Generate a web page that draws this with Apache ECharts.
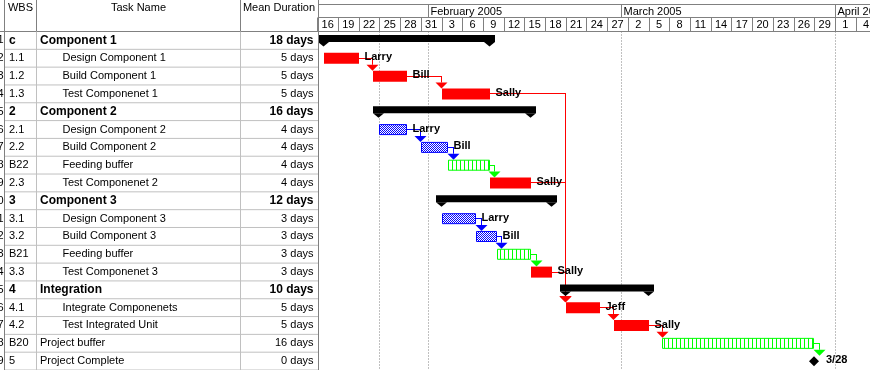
<!DOCTYPE html>
<html><head><meta charset="utf-8">
<script src="https://cdn.jsdelivr.net/npm/echarts@6/dist/echarts.min.js"></script>
<style>html,body{margin:0;padding:0;background:#fff}#c{width:870px;height:370px}</style>
</head><body><div id="c"></div>
<script>
// ---------- DATA ----------
const rowNumbers = [1,2,3,4,5,6,7,8,9,10,11,12,13,14,15,16,17,18,19];
const wbsCodes = ['c','1.1','1.2','1.3','2','2.1','2.2','B22','2.3','3','3.1','3.2','B21','3.3','4','4.1','4.2','B20','5'];
const taskNames = ['Component 1','Design Component 1','Build Component 1','Test Componenet 1',
  'Component 2','Design Component 2','Build Component 2','Feeding buffer','Test Componenet 2',
  'Component 3','Design Component 3','Build Component 3','Feeding buffer','Test Componenet 3',
  'Integration','Integrate Componenets','Test Integrated Unit','Project buffer','Project Complete'];
const meanDurations = ['18 days','5 days','5 days','5 days','16 days','4 days','4 days','4 days','4 days',
  '12 days','3 days','3 days','3 days','3 days','10 days','5 days','5 days','16 days','0 days'];
const taskKinds = ['summary','critical','critical','critical','summary','feeding','feeding','buffer','critical',
  'summary','feeding','feeding','buffer','critical','summary','critical','critical','buffer','milestone'];
const taskIndent = [0,1,1,1,0,1,1,1,1,0,1,1,1,1,0,1,1,0,0];
const taskStarts = ['2005-01-17','2005-01-17','2005-01-24','2005-02-03','2005-01-25','2005-01-25','2005-01-31','2005-02-04','2005-02-10',
  '2005-02-03','2005-02-03','2005-02-08','2005-02-11','2005-02-16','2005-02-21','2005-02-21','2005-02-28','2005-03-07','2005-03-28'];
const taskFinishes = ['2005-02-09','2005-01-21','2005-01-28','2005-02-09','2005-02-15','2005-01-28','2005-02-03','2005-02-09','2005-02-15',
  '2005-02-18','2005-02-07','2005-02-10','2005-02-15','2005-02-18','2005-03-04','2005-02-25','2005-03-04','2005-03-28','2005-03-28'];
const resourceNames = ['','Larry','Bill','Sally','','Larry','Bill','','Sally','','Larry','Bill','','Sally','','Jeff','Sally','',''];
const taskLinks = [[1,2],[2,3],[3,15],[5,6],[6,7],[7,8],[8,15],[10,11],[11,12],[12,13],[13,15],[15,16],[16,17],[17,18]];
const dayTickDates = ['2005-01-16','2005-01-19','2005-01-22','2005-01-25','2005-01-28','2005-01-31','2005-02-03','2005-02-06',
  '2005-02-09','2005-02-12','2005-02-15','2005-02-18','2005-02-21','2005-02-24','2005-02-27','2005-03-02','2005-03-05',
  '2005-03-08','2005-03-11','2005-03-14','2005-03-17','2005-03-20','2005-03-23','2005-03-26','2005-03-29','2005-04-01','2005-04-04'];
const dayTickLabels = ['16','19','22','25','28','31','3','6','9','12','15','18','21','24','27','2','5','8','11','14','17','20','23','26','29','1','4'];
const monthStarts = ['2005-01-01','2005-02-01','2005-03-01','2005-04-01'];
const monthLabels = ['January 2005','February 2005','March 2005','April 2005'];
const dottedDates = ['2005-01-25','2005-02-01','2005-03-01','2005-04-01'];
const tableHeaders = ['WBS','Task Name','Mean Duration'];

// ---------- HELPERS ----------
const BASE = Date.UTC(2005,0,16);
function dayNum(s){const p=s.split('-');return (Date.UTC(+p[0],+p[1]-1,+p[2])-BASE)/86400000;}
const FONT = "'Liberation Sans', Arial, sans-serif";
const DARK = '#808080', LIGHT = '#c0c0c0';
const RED = '#ff0000', BLUE = '#0000ff', GREEN = '#00ff00';
const startDay = taskStarts.map((s,i)=> taskKinds[i]==='milestone' ? dayNum(taskFinishes[i])+1 : dayNum(s));
const endDay = taskFinishes.map(f=> dayNum(f)+1);
function colorOf(k){return k==='critical'?RED:k==='feeding'?BLUE:k==='buffer'?GREEN:'#000';}
function mkPattern(kind){
  const c=document.createElement('canvas');
  if(kind==='checker'){c.width=2;c.height=2;const g=c.getContext('2d');g.fillStyle='#fff';g.fillRect(0,0,2,2);g.fillStyle=BLUE;g.fillRect(0,0,1,1);g.fillRect(1,1,1,1);}
  else {c.width=4;c.height=4;const g=c.getContext('2d');g.fillStyle='#fff';g.fillRect(0,0,4,4);g.fillStyle=GREEN;g.fillRect(0,0,1,4);}
  return c;
}
const checkerPat = {image: mkPattern('checker'), repeat:'repeat'};
const stripePat = {image: mkPattern('stripe'), repeat:'repeat'};
const px = v => Math.round(v)+0.5;

const chart = echarts.init(document.getElementById('c'));

// ---------- SERIES ----------
const series = [];
// dotted date lines
series.push({type:'custom', xAxisIndex:0, yAxisIndex:0, silent:true, z:1,
  data: dottedDates.map(d=>[dayNum(d),0]),
  renderItem:(p,api)=>{const x=px(api.coord([api.value(0),0])[0]);const y0=api.coord([0,0])[1];const y1=api.coord([0,19])[1];
    return {type:'line',shape:{x1:x,y1:y0,x2:x,y2:y1},style:{stroke:DARK,lineWidth:1,lineDash:[1,2]}};}});
// table rows
series.push({type:'custom', xAxisIndex:0, yAxisIndex:0, silent:true, z:2,
  data: rowNumbers.map((n,i)=>[0,i]),
  renderItem:(p,api)=>{const i=api.value(1);const top=api.coord([0,i])[1];const bot=api.coord([0,i+1])[1];const cy=(top+bot)/2;
    const bold=taskKinds[i]==='summary';
    const fw=bold?'bold':'normal', fs=bold?12:11;
    return {type:'group',children:[
      {type:'line',shape:{x1:4,y1:bot,x2:318,y2:bot},style:{stroke:LIGHT,lineWidth:1}},
      {type:'text',x:3.5,y:cy,style:{text:String(rowNumbers[i]),fill:'#000',fontFamily:FONT,fontSize:11,align:'right',verticalAlign:'middle'}},
      {type:'text',x:9,y:cy,style:{text:wbsCodes[i],fill:'#000',fontFamily:FONT,fontSize:fs,fontWeight:fw,align:'left',verticalAlign:'middle'}},
      {type:'text',x:40+taskIndent[i]*22.5,y:cy,style:{text:taskNames[i],fill:'#000',fontFamily:FONT,fontSize:fs,fontWeight:fw,align:'left',verticalAlign:'middle'}},
      {type:'text',x:313.5,y:cy,style:{text:meanDurations[i],fill:'#000',fontFamily:FONT,fontSize:fs,fontWeight:fw,align:'right',verticalAlign:'middle'}}
    ]};}});
// links (drawn as 1px filled rects for crisp colour)
series.push({type:'custom', xAxisIndex:0, yAxisIndex:0, silent:true, z:3,
  data: taskLinks.map(l=>[l[0],l[1]]),
  renderItem:(p,api)=>{const a=api.value(0), b=api.value(1);
    const col=colorOf(taskKinds[a]);
    const pe=api.coord([endDay[a], a+0.5]);
    const ss=api.coord([startDay[b], b]);
    const yc=Math.floor(pe[1]);
    const tip=ss[1]+3.5;
    const xv=Math.round(Math.max(pe[0]+4.5, ss[0]-0.7));
    const x0=Math.round(pe[0]);
    return {type:'group',children:[
      {type:'rect',shape:{x:x0,y:yc,width:xv-x0+1,height:1},style:{fill:col}},
      {type:'rect',shape:{x:xv,y:yc,width:1,height:tip-6-yc},style:{fill:col}},
      {type:'polygon',shape:{points:[[xv+0.5-6,tip-6],[xv+0.5+6,tip-6],[xv+0.5,tip]]},style:{fill:col}}
    ]};}});
// bars
series.push({type:'custom', xAxisIndex:0, yAxisIndex:0, silent:true, z:4,
  data: taskNames.map((n,i)=>[startDay[i], i, endDay[i]]),
  renderItem:(p,api)=>{const i=api.value(1);const k=taskKinds[i];
    const s=api.coord([api.value(0), i]);const e=api.coord([api.value(2), i]);
    const top=s[1]; const cy=top+9;
    const kids=[];
    if(k==='summary'){
      const x0=Math.round(s[0])-6, x1=Math.round(e[0])+5;
      kids.push({type:'rect',shape:{x:x0,y:top+3.5,width:x1-x0,height:7},style:{fill:'#000'}});
      [Math.round(s[0])-0.5, Math.round(e[0])-0.5].forEach(c=>kids.push({type:'polygon',shape:{points:[[c-5.5,top+10.5],[c+5.5,top+10.5],[c,top+15]]},style:{fill:'#000'}}));
    } else if(k==='milestone'){
      const x=Math.round(s[0]);
      kids.push({type:'polygon',shape:{points:[[x,cy-5],[x+5,cy],[x,cy+5],[x-5,cy]]},style:{fill:'#000'}});
      const p2=taskFinishes[i].split('-');
      kids.push({type:'text',x:x+12,y:cy-1,style:{text:(+p2[1])+'/'+(+p2[2]),fill:'#000',fontFamily:FONT,fontSize:11,fontWeight:'bold',align:'left',verticalAlign:'middle'}});
    } else {
      const x0=Math.round(s[0]), x1=Math.round(e[0]);
      if(k==='critical'){
        kids.push({type:'rect',shape:{x:x0,y:top+3.5,width:x1-x0,height:11},style:{fill:RED}});
      } else {
        kids.push({type:'rect',shape:{x:x0+0.5,y:top+4,width:x1-x0-1,height:10},style:{fill:k==='feeding'?checkerPat:stripePat,stroke:colorOf(k),lineWidth:1}});
      }
      if(resourceNames[i]) kids.push({type:'text',x:x1+5.5,y:cy-1,style:{text:resourceNames[i],fill:'#000',fontFamily:FONT,fontSize:11,fontWeight:'bold',align:'left',verticalAlign:'middle'}});
    }
    return {type:'group',children:kids};}});
// header: months
series.push({type:'custom', xAxisIndex:1, yAxisIndex:1, silent:true, clip:true, z:5,
  data: monthStarts.map((d,i)=>[dayNum(d),0,i]),
  renderItem:(p,api)=>{const x=px(api.coord([api.value(0),0])[0]);const i=api.value(2);
    return {type:'group',children:[
      {type:'line',shape:{x1:x,y1:4.5,x2:x,y2:17.5},style:{stroke:DARK,lineWidth:1}},
      {type:'text',x:x+2,y:11.5,style:{text:monthLabels[i],fill:'#000',fontFamily:FONT,fontSize:11,align:'left',verticalAlign:'middle'}}
    ]};}});
// header: days
series.push({type:'custom', xAxisIndex:1, yAxisIndex:1, silent:true, clip:true, z:5,
  data: dayTickDates.map((d,i)=>[dayNum(d),0,i]),
  renderItem:(p,api)=>{const d=api.value(0);const x=px(api.coord([d,0])[0]);const xm=api.coord([d+1.5,0])[0];const i=api.value(2);
    return {type:'group',children:[
      {type:'line',shape:{x1:x,y1:17.5,x2:x,y2:31.5},style:{stroke:DARK,lineWidth:1}},
      {type:'text',x:xm,y:25,style:{text:dayTickLabels[i],fill:'#000',fontFamily:FONT,fontSize:11,align:'center',verticalAlign:'middle'}}
    ]};}});

const L = (x1,y1,x2,y2,c)=>({type:'line',shape:{x1,y1,x2,y2},style:{stroke:c,lineWidth:1},z:10,silent:true});
const headerText = (t,x)=>({type:'text',x,y:7.5,style:{text:t,fill:'#000',fontFamily:FONT,fontSize:11,align:'center',verticalAlign:'middle'},z:10,silent:true});

chart.setOption({
  animation:false,
  backgroundColor:'#fff',
  grid:[{left:317.3,top:31.5,width:552.2,height:342},{left:317.3,top:4.5,width:552.2,height:27}],
  xAxis:[{type:'value',gridIndex:0,min:0,max:80,show:false},{type:'value',gridIndex:1,min:0,max:80,show:false}],
  yAxis:[{type:'value',gridIndex:0,min:0,max:19,inverse:true,show:false},{type:'value',gridIndex:1,min:0,max:1,show:false}],
  graphic:[
    L(0,31.5,870,31.5,DARK), L(318,4.5,870,4.5,DARK), L(318,17.5,870,17.5,DARK),
    L(4.5,0,4.5,370,DARK), L(318.5,0,318.5,370,DARK),
    L(36.5,0,36.5,31.5,DARK), L(240.5,0,240.5,31.5,DARK),
    L(36.5,31.5,36.5,370,LIGHT), L(240.5,31.5,240.5,370,LIGHT),
    headerText(tableHeaders[0],20.5), headerText(tableHeaders[1],138.5), headerText(tableHeaders[2],279)
  ],
  series
});
</script></body></html>
